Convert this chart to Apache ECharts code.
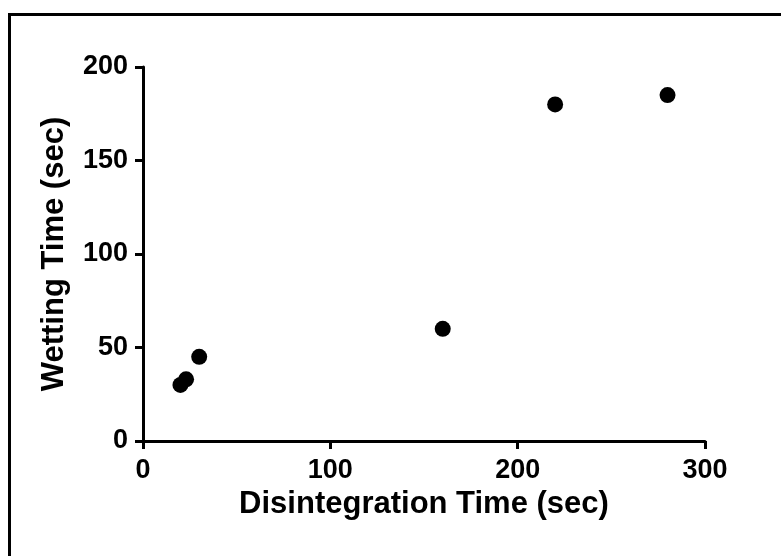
<!DOCTYPE html>
<html>
<head>
<meta charset="utf-8">
<script src="https://cdn.jsdelivr.net/npm/echarts@6/dist/echarts.min.js"></script>
<style>html,body{margin:0;padding:0;background:#fff}#c{width:781px;height:556px}</style>
</head>
<body>
<div id="c"></div>
<script>
var disintegrationTime = [20, 23, 30, 160, 220, 280];
var wettingTime = [30, 33, 45, 60, 180, 185];
var xTicks = [0, 100, 200, 300];
var yTicks = [0, 50, 100, 150, 200];
var xTitle = 'Disintegration Time (sec)';
var yTitle = 'Wetting Time (sec)';

var pts = disintegrationTime.map(function (x, i) { return [x, wettingTime[i]]; });
var font = 'Arial, "Liberation Sans", Helvetica, sans-serif';
var chart = echarts.init(document.getElementById('c'), null, {renderer: 'canvas'});
var axisCommon = {
  type: 'value',
  nameLocation: 'middle',
  nameTextStyle: {fontFamily: font, fontWeight: 'bold', fontSize: 31, color: '#000'},
  axisLine: {show: true, onZero: false, lineStyle: {color: '#000', width: 3}},
  axisTick: {show: true, inside: false, length: 8, lineStyle: {color: '#000', width: 3}},
  axisLabel: {fontFamily: font, fontWeight: 'bold', fontSize: 27, color: '#000'},
  splitLine: {show: false}
};
chart.setOption({
  animation: false,
  backgroundColor: '#fff',
  graphic: [{
    type: 'rect', silent: true, z: 100,
    shape: {x: 9.5, y: 14.5, width: 900, height: 700},
    style: {fill: 'none', stroke: '#000', lineWidth: 3}
  }],
  grid: {left: 143, right: 76, top: 67, bottom: 115, containLabel: false},
  xAxis: Object.assign({}, axisCommon, {
    min: 0, max: 300, interval: 100, name: xTitle, nameGap: 45,
    axisLabel: Object.assign({}, axisCommon.axisLabel, {margin: 16})
  }),
  yAxis: Object.assign({}, axisCommon, {
    min: 0, max: 200, interval: 50, name: yTitle, nameGap: 73, nameRotate: 90,
    axisLabel: Object.assign({}, axisCommon.axisLabel, {margin: 15})
  }),
  series: [{
    type: 'scatter',
    data: pts,
    symbol: 'circle',
    symbolSize: 16,
    itemStyle: {color: '#000', opacity: 1}
  }]
});
</script>
</body>
</html>
